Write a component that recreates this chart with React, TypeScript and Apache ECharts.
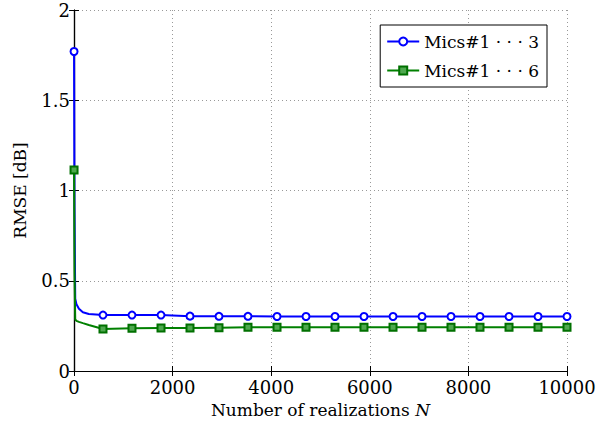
import React, { useEffect, useRef } from "react";
import * as echarts from "echarts";

const nValues = [1, 10, 25, 50, 100, 180, 300, 588, 1176, 1765, 2353, 2941, 3529, 4118, 4706, 5294, 5882, 6471, 7059, 7647, 8235, 8824, 9412, 10000];
const markerFlags = [1, 0, 0, 0, 0, 0, 0, 1, 1, 1, 1, 1, 1, 1, 1, 1, 1, 1, 1, 1, 1, 1, 1, 1];
const rmse3 = [1.77, 0.9, 0.4, 0.37, 0.345, 0.325, 0.316, 0.31, 0.31, 0.31, 0.304, 0.303, 0.303, 0.302, 0.302, 0.302, 0.302, 0.302, 0.302, 0.302, 0.302, 0.302, 0.302, 0.302];
const rmse6 = [1.114, 0.55, 0.285, 0.278, 0.272, 0.265, 0.255, 0.233, 0.237, 0.238, 0.238, 0.24, 0.242, 0.242, 0.242, 0.242, 0.242, 0.242, 0.242, 0.242, 0.242, 0.242, 0.242, 0.242];
const seriesNames = ["Mics#1 \u00B7 \u00B7 \u00B7 3", "Mics#1 \u00B7 \u00B7 \u00B7 6"];

const FONT = "DejaVu Serif";

export default function App() {
  const ref = useRef<HTMLDivElement>(null);
  useEffect(() => {
    if (!ref.current) return;
    const chart = echarts.init(ref.current, null, { renderer: "svg" });
    const sym = (_v: any, p: any) => (markerFlags[p.dataIndex] ? 7 : 0);
    const axisCommon = {
      axisLine: { show: true, lineStyle: { color: "#000", width: 1.2 } },
      axisTick: { show: true, inside: true, length: 5, lineStyle: { color: "#000" } },
    };
    chart.setOption({
      animation: false,
      backgroundColor: "#fff",
      grid: { left: 74, right: 40, top: 10, bottom: 44 },
      legend: {
        right: 60,
        top: 25,
        orient: "vertical",
        backgroundColor: "#fff",
        borderColor: "#000",
        borderWidth: 1,
        borderRadius: 0,
        padding: [8, 8, 8, 6],
        itemGap: 12,
        itemWidth: 32,
        itemHeight: 10,
        textStyle: { fontFamily: FONT, fontSize: 17, color: "#000" },
        data: seriesNames,
      },
      xAxis: [
        {
          type: "value",
          min: 0,
          max: 10000,
          interval: 2000,
          name: "Number of realizations {i|N}",
          nameLocation: "middle",
          nameGap: 30,
          nameTextStyle: {
            fontFamily: FONT,
            fontSize: 17,
            color: "#000",
            rich: { i: { fontFamily: FONT, fontStyle: "italic", fontSize: 17, color: "#000" } },
          },
          ...axisCommon,
          axisLabel: { fontFamily: FONT, fontSize: 18, color: "#000", margin: 7, formatter: (v: number) => String(v) },
          splitLine: { show: true, lineStyle: { type: [1, 3], color: "#999", width: 1 } },
        },
        {
          type: "value",
          position: "top",
          min: 0,
          max: 10000,
          interval: 2000,
          ...axisCommon,
          axisLabel: { show: false },
          splitLine: { show: false },
        },
      ],
      yAxis: [
        {
          type: "value",
          min: 0,
          max: 2,
          interval: 0.5,
          name: "RMSE [dB]",
          nameLocation: "middle",
          nameGap: 46,
          nameTextStyle: { fontFamily: FONT, fontSize: 17, color: "#000" },
          ...axisCommon,
          axisLabel: { fontFamily: FONT, fontSize: 18, color: "#000", margin: 4 },
          splitLine: { show: true, lineStyle: { type: [1, 3], color: "#999", width: 1 } },
        },
        {
          type: "value",
          position: "right",
          min: 0,
          max: 2,
          interval: 0.5,
          ...axisCommon,
          axisLabel: { show: false },
          splitLine: { show: false },
        },
      ],
      series: [
        {
          name: seriesNames[0],
          type: "line",
          data: nValues.map((n, i) => [n, rmse3[i]]),
          symbol: "emptyCircle",
          symbolSize: sym,
          showAllSymbol: true,
          lineStyle: { color: "#0000ff", width: 2 },
          itemStyle: { color: "#0000ff", borderColor: "#0000ff", borderWidth: 2 },
        },
        {
          name: seriesNames[1],
          type: "line",
          data: nValues.map((n, i) => [n, rmse6[i]]),
          symbol: "rect",
          symbolSize: sym,
          showAllSymbol: true,
          lineStyle: { color: "#008000", width: 2 },
          itemStyle: { color: "#4fa84f", borderColor: "#007000", borderWidth: 2 },
        },
      ],
    });
    return () => chart.dispose();
  }, []);
  return <div ref={ref} style={{ position: "fixed", left: 0, top: 0, width: 607, height: 423 }} />;
}
